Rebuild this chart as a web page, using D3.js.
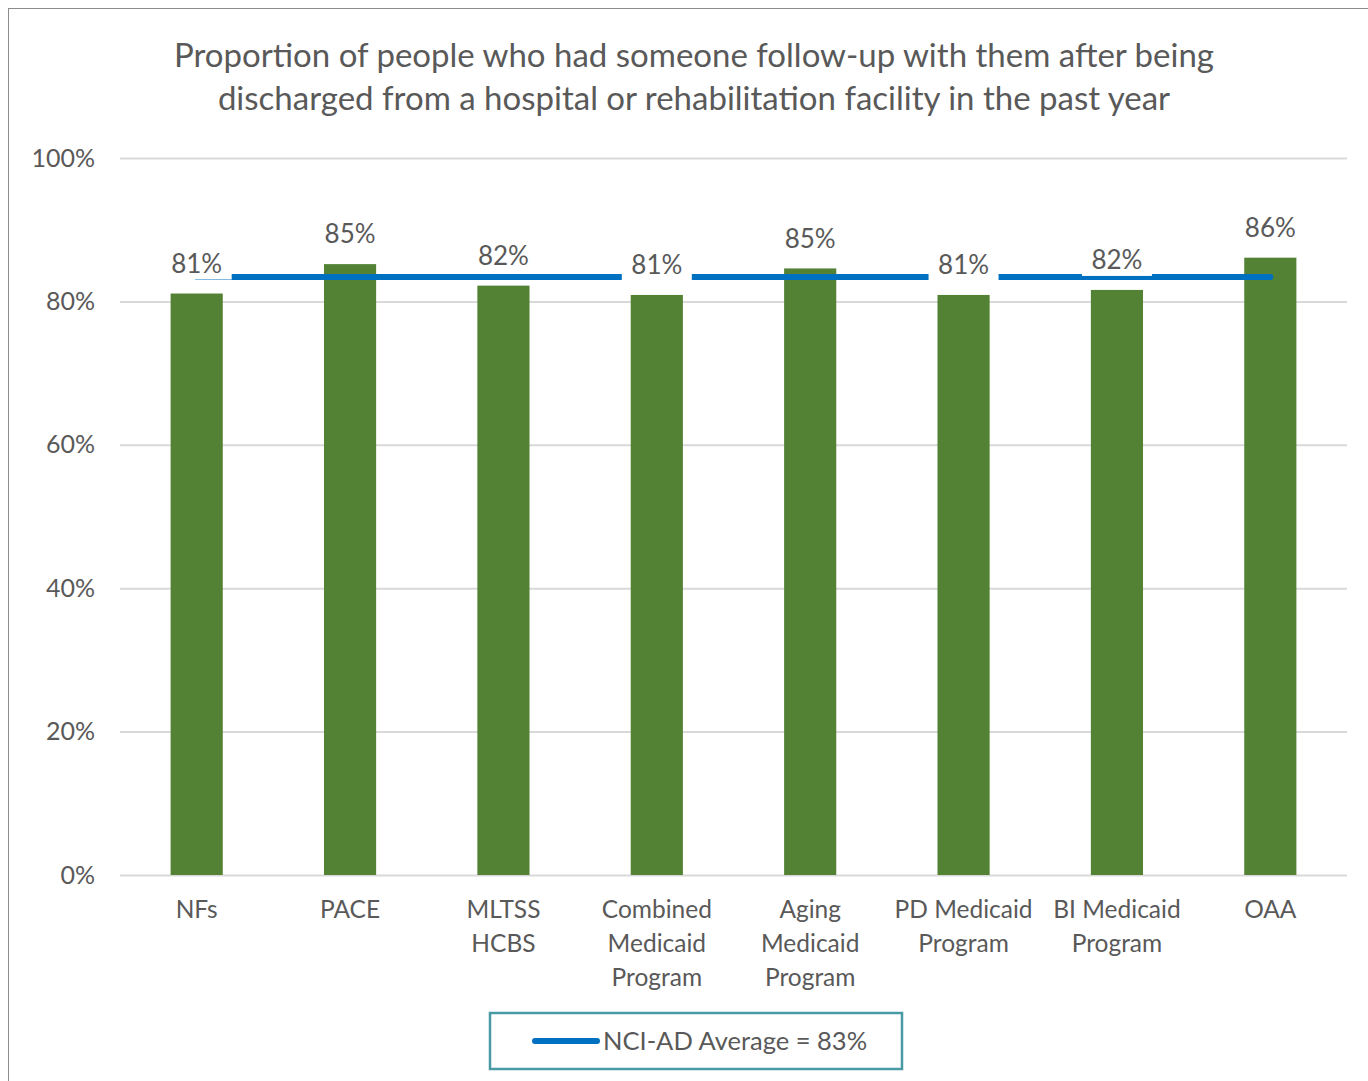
<!DOCTYPE html>
<html>
<head>
<meta charset="utf-8">
<script src="https://cdn.jsdelivr.net/npm/d3@7"></script>
<style>
  body { margin: 0; background: #fff; }
  text { font-family: Lato, "Open Sans", sans-serif; fill: #595959; }
</style>
</head>
<body>
<div id="grafico"></div>
<script>
// Dados do gráfico
const categorias = ["NFs", "PACE", "MLTSS HCBS", "Combined Medicaid Program", "Aging Medicaid Program",
  "PD Medicaid Program", "BI Medicaid Program", "OAA"];
const rotulosEixo = [["NFs"], ["PACE"], ["MLTSS", "HCBS"], ["Combined", "Medicaid", "Program"],
  ["Aging", "Medicaid", "Program"], ["PD Medicaid", "Program"], ["BI Medicaid", "Program"], ["OAA"]];
const valores = [81.1, 85.2, 82.2, 80.9, 84.6, 80.9, 81.6, 86.1];
const media = 83.4;
const mediaRotulo = "NCI-AD Average = 83%";
const ticksY = [0, 20, 40, 60, 80, 100];
const titulo = ["Proportion of people who had someone follow-up with them after being",
  "discharged from a hospital or rehabilitation facility in the past year"];

function criarGrafico() {
    const largura = 1368, altura = 1081;
    const area = { left: 120, right: 1347, top: 158, bottom: 875 };

    const svg = d3.select("#grafico").append("svg")
        .attr("width", largura)
        .attr("height", altura);

    // borda externa
    svg.append("rect")
        .attr("x", 8.5).attr("y", 8.5)
        .attr("width", largura + 20).attr("height", altura + 20)
        .attr("fill", "none").attr("stroke", "#8c8c8c").attr("stroke-width", 1);

    // título
    svg.append("text")
        .attr("x", 694).attr("y", 67)
        .attr("text-anchor", "middle")
        .style("font-size", "33px")
        .selectAll("tspan").data(titulo).enter().append("tspan")
        .attr("x", 694).attr("dy", (d, i) => i === 0 ? 0 : 43)
        .text(d => d);

    const x = d3.scaleBand()
        .domain(categorias)
        .range([area.left, area.right])
        .paddingInner(0.66)
        .paddingOuter(0.33);

    const y = d3.scaleLinear()
        .domain([0, 100])
        .range([area.bottom, area.top]);

    // grade e eixo Y
    const eixoY = svg.append("g")
        .attr("transform", `translate(${area.left},0)`)
        .call(d3.axisLeft(y).tickValues(ticksY).tickSize(-(area.right - area.left))
            .tickPadding(25).tickFormat(d => d + "%"));
    eixoY.select(".domain").remove();
    eixoY.selectAll("line").attr("stroke", "#d9d9d9").attr("stroke-width", 2);
    eixoY.selectAll("text").style("font-size", "25px").attr("fill", "#595959")
        .style("font-family", "Lato, 'Open Sans', sans-serif");

    // barras
    svg.selectAll(".bar")
        .data(valores)
        .enter().append("rect")
        .attr("class", "bar")
        .attr("x", (d, i) => x(categorias[i]))
        .attr("width", x.bandwidth())
        .attr("y", d => y(d))
        .attr("height", d => y(0) - y(d))
        .attr("fill", "#548235");

    // linha da média
    const cx = c => x(c) + x.bandwidth() / 2;
    svg.append("line")
        .attr("x1", cx(categorias[0]))
        .attr("x2", cx(categorias[categorias.length - 1]))
        .attr("y1", y(media)).attr("y2", y(media))
        .attr("stroke", "#0070c0").attr("stroke-width", 6)
        .attr("stroke-linecap", "round");

    // rótulos com fundo branco
    const rotulos = svg.selectAll(".rotulo")
        .data(valores)
        .enter().append("g")
        .attr("class", "rotulo")
        .attr("transform", (d, i) => `translate(${cx(categorias[i])},${y(d) - 30})`);
    rotulos.append("rect")
        .attr("x", -35).attr("y", -16)
        .attr("width", 70).attr("height", 32)
        .attr("fill", "#fff");
    rotulos.append("text")
        .attr("text-anchor", "middle")
        .attr("dy", "0.36em")
        .style("font-size", "26px")
        .text(d => Math.round(d) + "%");

    // rótulos do eixo X
    const eixoX = svg.selectAll(".cat")
        .data(categorias)
        .enter().append("text")
        .attr("class", "cat")
        .attr("text-anchor", "middle")
        .attr("y", 918)
        .style("font-size", "24.5px");
    eixoX.selectAll("tspan")
        .data((d, i) => rotulosEixo[i].map(t => ({ t, c: d })))
        .enter().append("tspan")
        .attr("x", d => cx(d.c))
        .attr("dy", (d, i) => i === 0 ? 0 : 34)
        .text(d => d.t);

    // legenda
    const leg = svg.append("g");
    leg.append("rect")
        .attr("x", 490).attr("y", 1013)
        .attr("width", 412).attr("height", 56)
        .attr("fill", "#fff").attr("stroke", "#4a9aa5").attr("stroke-width", 2.5);
    leg.append("line")
        .attr("x1", 535).attr("x2", 597)
        .attr("y1", 1041).attr("y2", 1041)
        .attr("stroke", "#0070c0").attr("stroke-width", 6)
        .attr("stroke-linecap", "round");
    leg.append("text")
        .attr("x", 603).attr("y", 1041)
        .attr("dy", "0.36em")
        .style("font-size", "25.5px")
        .text(mediaRotulo);
}

criarGrafico();
</script>
</body>
</html>
